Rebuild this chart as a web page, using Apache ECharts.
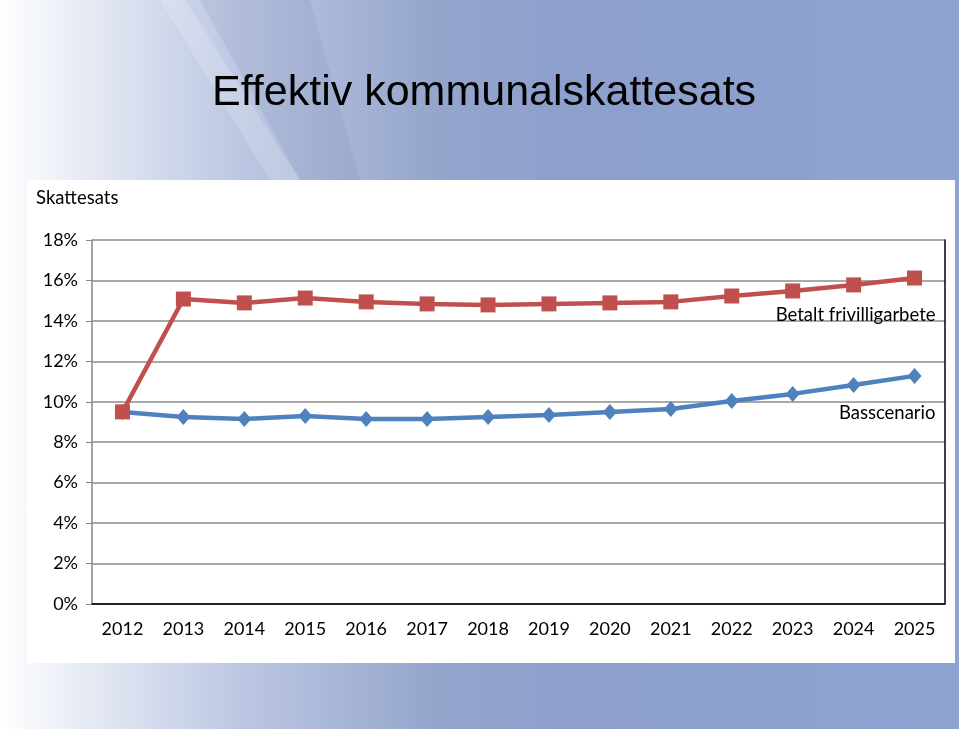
<!DOCTYPE html>
<html><head><meta charset="utf-8">
<script src="https://cdn.jsdelivr.net/npm/echarts@6/dist/echarts.min.js"></script>
<style>
html,body{margin:0;padding:0;width:959px;height:729px;overflow:hidden;
background:linear-gradient(90deg,#ffffff 0%,#e8ecf5 8%,#bcc7e2 25%,#95a6cc 45%,#8c9fcd 60%,#8ea3d1 100%);}
#c{width:959px;height:729px;}
</style></head><body>
<div id="c"></div>
<script>
const years = ['2012','2013','2014','2015','2016','2017','2018','2019','2020','2021','2022','2023','2024','2025'];
const betalt = [9.5,15.08,14.89,15.13,14.94,14.84,14.79,14.84,14.89,14.94,15.23,15.48,15.78,16.12];
const bas = [9.5,9.25,9.15,9.3,9.15,9.15,9.25,9.35,9.5,9.64,10.04,10.39,10.83,11.28];
const yTicks = [0,2,4,6,8,10,12,14,16,18];
const seriesNames = ['Betalt frivilligarbete','Basscenario'];
const titleText = 'Effektiv kommunalskattesats';
const yName = 'Skattesats';

const FONT = 'Lato, "Open Sans", sans-serif';
const FS = 18;
const chart = echarts.init(document.getElementById('c'), null, {renderer:'canvas'});
function lastLabel(arr, name){
  return arr.map((v,i)=> i===arr.length-1 ? {value:v, label:{show:true, formatter:name, position:'inside', align:'right', verticalAlign:'middle', offset:[21,37], color:'#000', fontFamily:FONT, fontSize:FS+0.5}} : v);
}
chart.setOption({
  animation:false,
  graphic:[
    {type:'polygon', silent:true, z:-10, shape:{points:[[160,0],[185,0],[300,180],[270,180]]}, style:{fill:'rgba(255,255,255,0.18)'}},
    {type:'polygon', silent:true, z:-10, shape:{points:[[200,0],[310,0],[360,180],[300,180]]}, style:{fill:'rgba(80,100,150,0.10)'}},
    {type:'rect', silent:true, z:-5, shape:{x:27,y:180,width:928,height:483}, style:{fill:'#ffffff'}},
    {type:'text', silent:true, left:36, top:189, style:{text:yName, fontFamily:FONT, fontSize:FS+0.5, fill:'#000'}}
  ],
  title:{text:titleText, left:207, top:67, textStyle:{fontFamily:'"Liberation Sans", Arial, sans-serif', fontWeight:'normal', fontSize:43, color:'#000'}},
  grid:{left:92, top:240, right:14, bottom:125},
  xAxis:[
    {type:'category', data:years, boundaryGap:true,
    axisLine:{lineStyle:{color:'#868686', width:1.5}}, axisTick:{show:false},
    axisLabel:{color:'#000', fontFamily:FONT, fontSize:FS, margin:16}},
    {type:'category', data:years, position:'top', boundaryGap:true,
    axisLine:{lineStyle:{color:'#000', width:1.5}}, axisTick:{show:false}, axisLabel:{show:false}, splitLine:{show:false}}
  ],
  yAxis:[
    {type:'value', min:0, max:18, interval:2,
    axisLine:{show:true, lineStyle:{color:'#868686', width:1.5}},
    axisTick:{show:true, length:6, lineStyle:{color:'#868686'}},
    splitLine:{lineStyle:{color:'#8c8c8c', width:1.5}},
    axisLabel:{formatter:v=>yTicks.includes(v)? v+'%':'', color:'#000', fontFamily:FONT, fontSize:FS, margin:14}},
    {type:'value', min:0, max:18, interval:2, position:'right',
    axisLine:{show:true, lineStyle:{color:'#000', width:1.5}}, axisTick:{show:false}, axisLabel:{show:false}, splitLine:{show:false}}
  ],
  series:[
    {name:seriesNames[0], type:'line', data:lastLabel(betalt, seriesNames[0]), symbol:'rect', symbolSize:15,
      lineStyle:{color:'#C0504D', width:4.5}, itemStyle:{color:'#C0504D'}, z:3},
    {name:seriesNames[1], type:'line', data:lastLabel(bas, seriesNames[1]), symbol:'diamond', symbolSize:[14,16],
      lineStyle:{color:'#4F81BD', width:4.5}, itemStyle:{color:'#4F81BD'}, z:2}
  ]
});
</script>
</body></html>
